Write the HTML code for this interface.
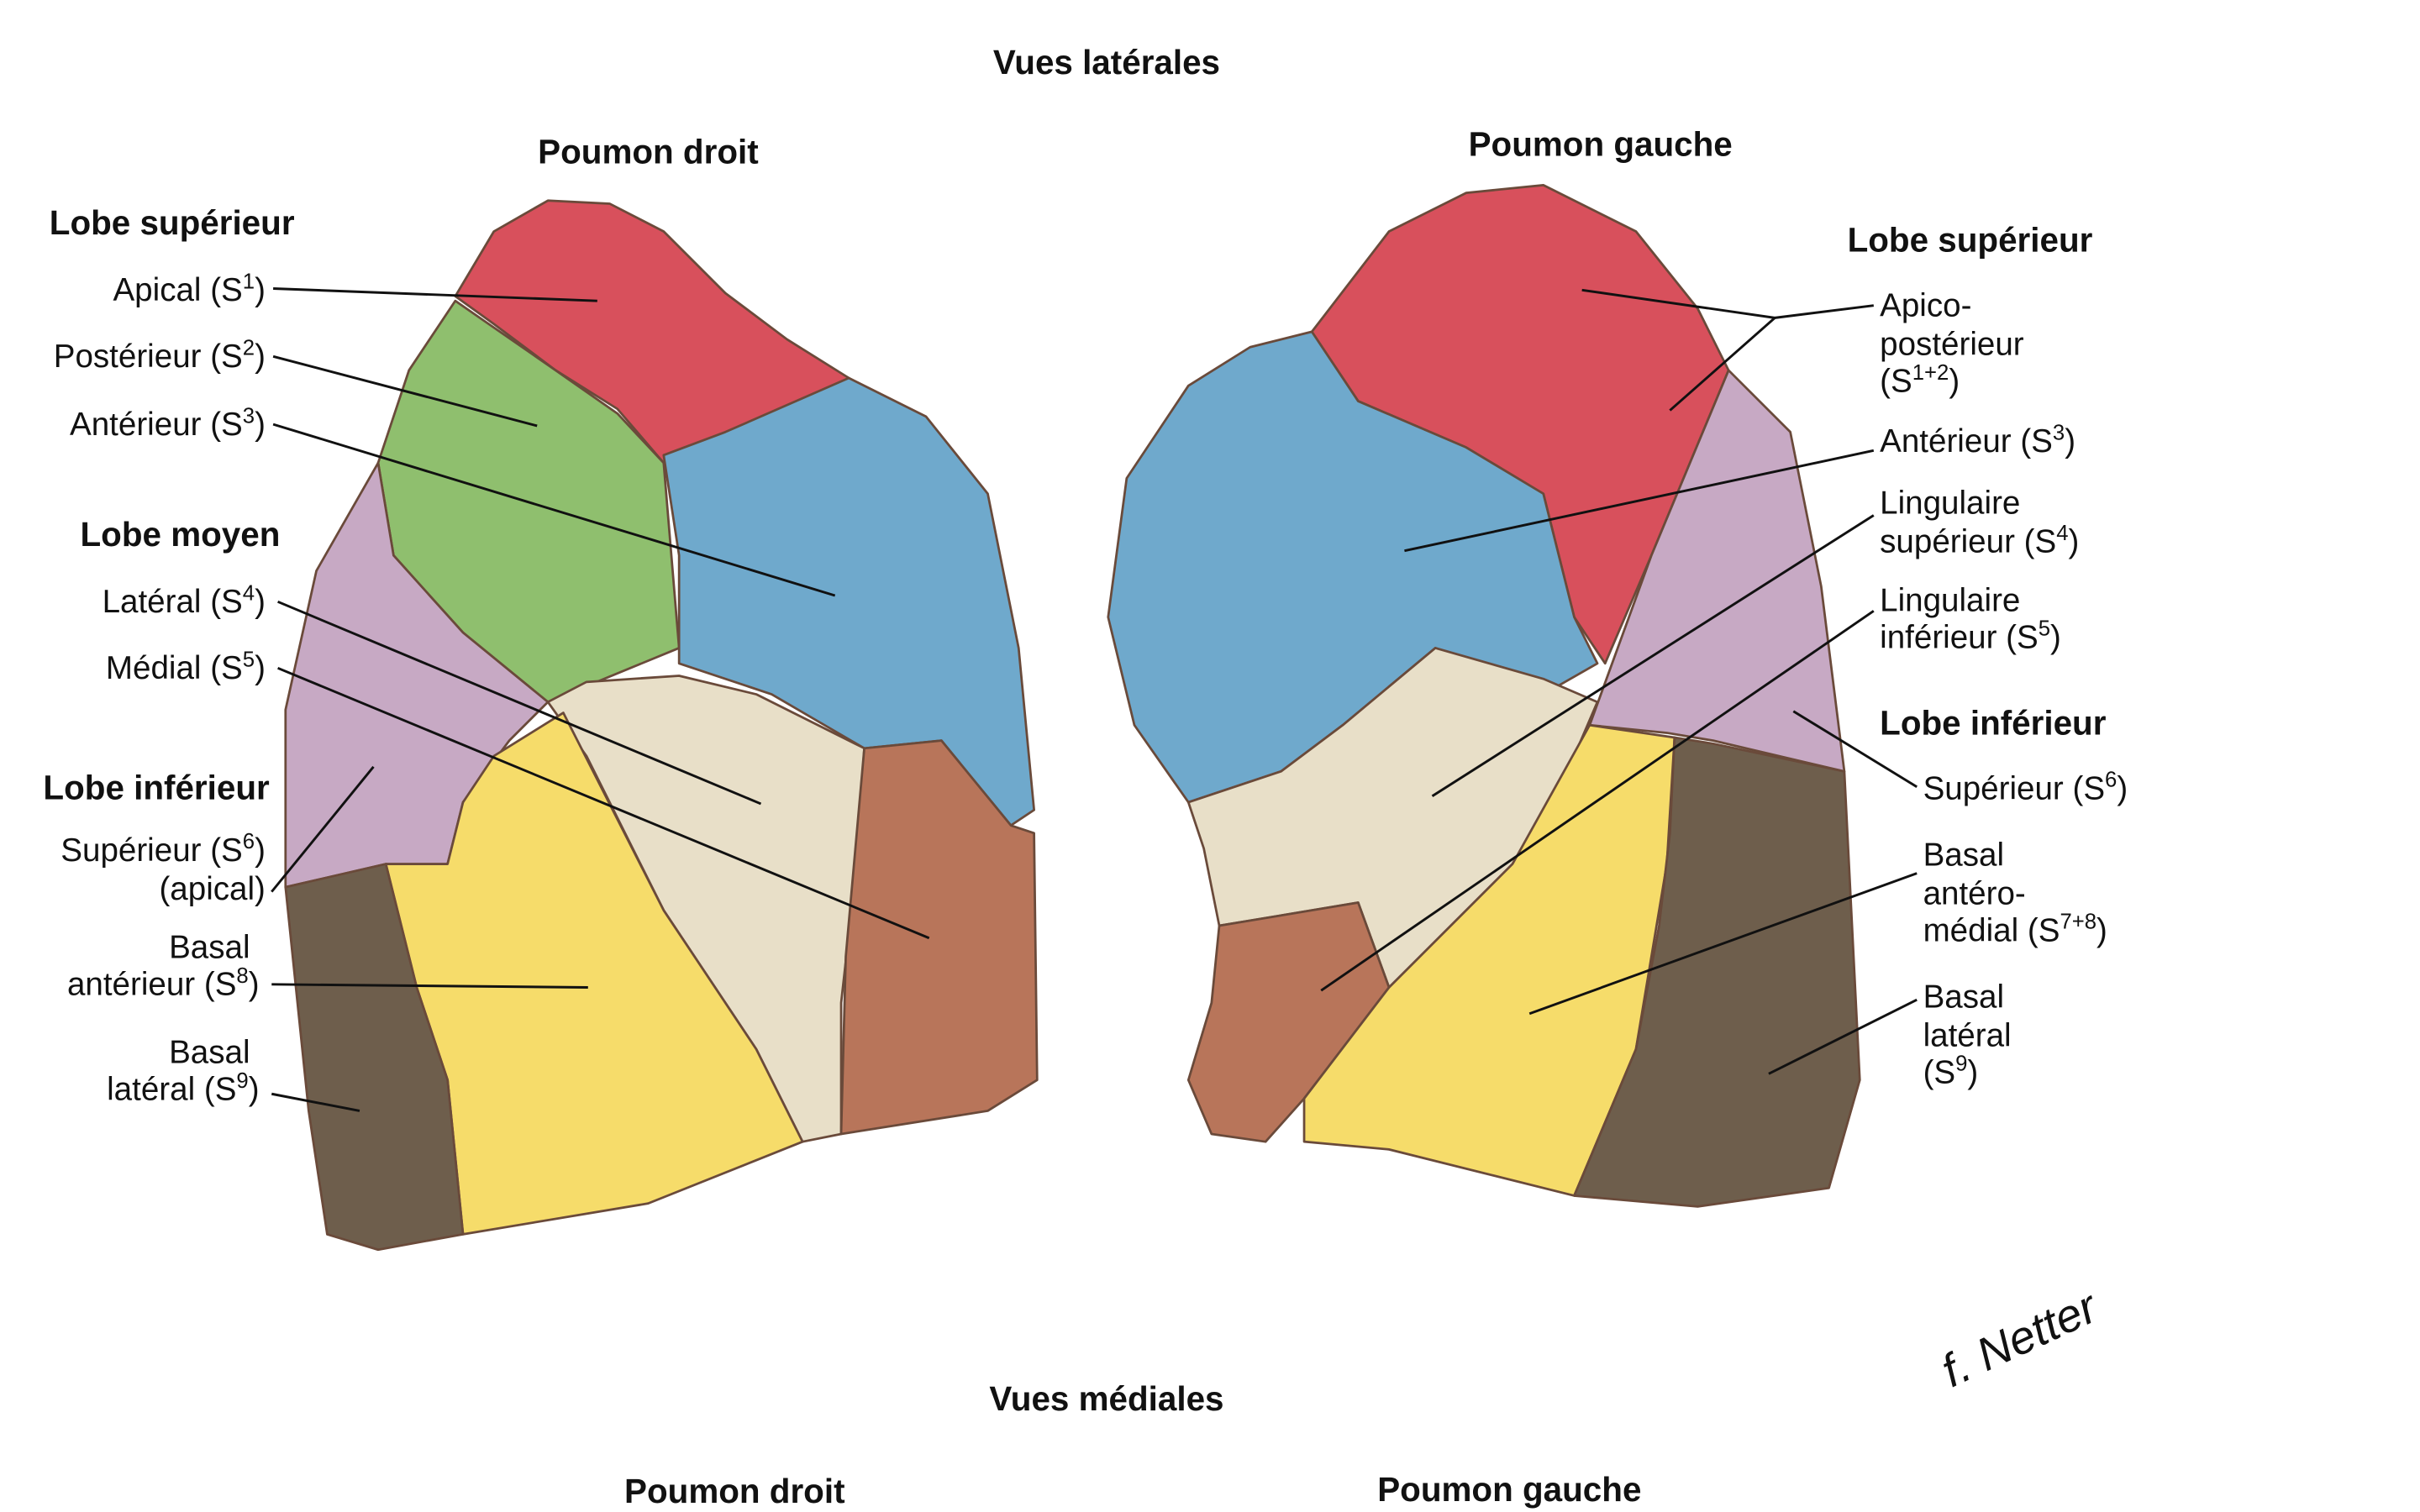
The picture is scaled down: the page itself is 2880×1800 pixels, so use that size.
<!DOCTYPE html>
<html><head><meta charset="utf-8"><style>
html,body{margin:0;padding:0;background:#fff;}
svg{display:block;}
text{font-family:"Liberation Sans Narrow","Liberation Sans",sans-serif;fill:#111;}
.b{font-weight:bold;font-size:22px;}
.t{font-size:21px;}
</style></head><body>
<svg width="2880" height="1800" viewBox="0 0 1568 980" preserveAspectRatio="none">
<rect width="1568" height="980" fill="#fff"/>
<g stroke="#6a4a3a" stroke-width="1.5" stroke-linejoin="round">
<polygon fill="#d8505c" points="295,192 320,150 355,130 395,132 430,150 470,190 510,220 550,245 500,270 470,285 430,300 400,265 360,240 320,210"/>
<polygon fill="#8fbf6e" points="295,195 360,240 400,268 430,300 435,360 440,420 355,455 300,410 255,360 245,300 265,240"/>
<polygon fill="#6fa9cc" points="430,295 470,280 550,245 600,270 640,320 660,420 670,525 655,535 610,480 560,485 500,450 440,430 440,360"/>
<polygon fill="#c7a9c4" points="245,300 255,360 300,410 355,455 330,480 300,520 290,560 250,560 185,575 185,460 205,370"/>
<polygon fill="#e8dfc8" points="355,455 380,442 440,438 490,450 560,485 555,560 545,650 545,735 520,740 490,680 430,590 380,490"/>
<polygon fill="#f6dc6a" points="320,490 365,462 430,590 490,680 520,740 420,780 300,800 290,700 270,640 255,580 250,560 290,560 300,520"/>
<polygon fill="#b8755a" points="560,485 610,480 655,535 670,540 672,700 640,720 545,735 548,620"/>
<polygon fill="#6e5e4c" points="185,575 250,560 255,580 270,640 290,700 300,800 245,810 212,800 200,720"/>
<polygon fill="#d8505c" points="850,215 900,150 950,125 1000,120 1060,150 1100,200 1120,240 1095,300 1070,360 1040,430 1020,400 1000,320 950,290 880,260"/>
<polygon fill="#6fa9cc" points="850,215 880,260 950,290 1000,320 1020,400 1035,430 1000,450 930,420 870,470 830,500 770,520 735,470 718,400 730,310 770,250 810,225"/>
<polygon fill="#c7a9c4" points="1120,240 1160,280 1180,380 1195,500 1110,480 1080,475 1030,470 1070,360"/>
<polygon fill="#e8dfc8" points="770,520 830,500 870,470 930,420 1000,440 1035,455 1020,490 980,560 900,640 880,585 790,600 780,550"/>
<polygon fill="#b8755a" points="790,600 880,585 900,640 845,712 820,740 785,735 770,700 785,650"/>
<polygon fill="#f6dc6a" points="900,640 980,560 1030,470 1085,478 1080,560 1070,620 1060,680 1020,775 900,745 845,740 845,712"/>
<polygon fill="#6e5e4c" points="1085,478 1110,482 1195,500 1205,700 1185,770 1100,782 1020,775 1060,680 1075,600 1082,540"/>
</g>
<text class="b" x="717" y="48" text-anchor="middle">Vues latérales</text>
<text class="b" x="420" y="106" text-anchor="middle">Poumon droit</text>
<text class="b" x="1037" y="101" text-anchor="middle">Poumon gauche</text>
<text class="b" x="717" y="914" text-anchor="middle">Vues médiales</text>
<text class="b" x="476" y="974" text-anchor="middle">Poumon droit</text>
<text class="b" x="978" y="973" text-anchor="middle">Poumon gauche</text>
<text class="b" x="32" y="152">Lobe supérieur</text>
<text class="t" x="172" y="195" text-anchor="end">Apical (S<tspan dy="-8" font-size="14">1</tspan><tspan dy="8">)</tspan></text>
<text class="t" x="172" y="238" text-anchor="end">Postérieur (S<tspan dy="-8" font-size="14">2</tspan><tspan dy="8">)</tspan></text>
<text class="t" x="172" y="282" text-anchor="end">Antérieur (S<tspan dy="-8" font-size="14">3</tspan><tspan dy="8">)</tspan></text>
<text class="b" x="52" y="354">Lobe moyen</text>
<text class="t" x="172" y="397" text-anchor="end">Latéral (S<tspan dy="-8" font-size="14">4</tspan><tspan dy="8">)</tspan></text>
<text class="t" x="172" y="440" text-anchor="end">Médial (S<tspan dy="-8" font-size="14">5</tspan><tspan dy="8">)</tspan></text>
<text class="b" x="28" y="518">Lobe inférieur</text>
<text class="t" x="172" y="558" text-anchor="end">Supérieur (S<tspan dy="-8" font-size="14">6</tspan><tspan dy="8">)</tspan></text>
<text class="t" x="172" y="583" text-anchor="end">(apical)</text>
<text class="t" x="162" y="621" text-anchor="end">Basal</text>
<text class="t" x="168" y="645" text-anchor="end">antérieur (S<tspan dy="-8" font-size="14">8</tspan><tspan dy="8">)</tspan></text>
<text class="t" x="162" y="689" text-anchor="end">Basal</text>
<text class="t" x="168" y="713" text-anchor="end">latéral (S<tspan dy="-8" font-size="14">9</tspan><tspan dy="8">)</tspan></text>
<text class="b" x="1197" y="163">Lobe supérieur</text>
<text class="t" x="1218" y="205">Apico-</text>
<text class="t" x="1218" y="230">postérieur</text>
<text class="t" x="1218" y="254">(S<tspan dy="-8" font-size="14">1+2</tspan><tspan dy="8">)</tspan></text>
<text class="t" x="1218" y="293">Antérieur (S<tspan dy="-8" font-size="14">3</tspan><tspan dy="8">)</tspan></text>
<text class="t" x="1218" y="333">Lingulaire</text>
<text class="t" x="1218" y="358">supérieur (S<tspan dy="-8" font-size="14">4</tspan><tspan dy="8">)</tspan></text>
<text class="t" x="1218" y="396">Lingulaire</text>
<text class="t" x="1218" y="420">inférieur (S<tspan dy="-8" font-size="14">5</tspan><tspan dy="8">)</tspan></text>
<text class="b" x="1218" y="476">Lobe inférieur</text>
<text class="t" x="1246" y="518">Supérieur (S<tspan dy="-8" font-size="14">6</tspan><tspan dy="8">)</tspan></text>
<text class="t" x="1246" y="561">Basal</text>
<text class="t" x="1246" y="586">antéro-</text>
<text class="t" x="1246" y="610">médial (S<tspan dy="-8" font-size="14">7+8</tspan><tspan dy="8">)</tspan></text>
<text class="t" x="1246" y="653">Basal</text>
<text class="t" x="1246" y="678">latéral</text>
<text class="t" x="1246" y="702">(S<tspan dy="-8" font-size="14">9</tspan><tspan dy="8">)</tspan></text>
<g stroke="#111" stroke-width="1.6" fill="none">
<line x1="177" y1="187" x2="387" y2="195"/>
<line x1="177" y1="231" x2="348" y2="276"/>
<line x1="177" y1="275" x2="541" y2="386"/>
<line x1="180" y1="390" x2="493" y2="521"/>
<line x1="180" y1="433" x2="602" y2="608"/>
<line x1="176" y1="578" x2="242" y2="497"/>
<line x1="176" y1="638" x2="381" y2="640"/>
<line x1="176" y1="709" x2="233" y2="720"/>
<polyline points="1025,188 1150,206 1082,266"/>
<line x1="1150" y1="206" x2="1214" y2="198"/>
<line x1="1214" y1="292" x2="910" y2="357"/>
<line x1="1214" y1="334" x2="928" y2="516"/>
<line x1="1214" y1="396" x2="856" y2="642"/>
<line x1="1242" y1="510" x2="1162" y2="461"/>
<line x1="1242" y1="566" x2="991" y2="657"/>
<line x1="1242" y1="648" x2="1146" y2="696"/>
</g>
<text x="1250" y="885" font-family="Liberation Serif" font-style="italic" font-size="30" transform="rotate(-25 1290 860)">f. Netter</text>
</svg>
</body></html>
